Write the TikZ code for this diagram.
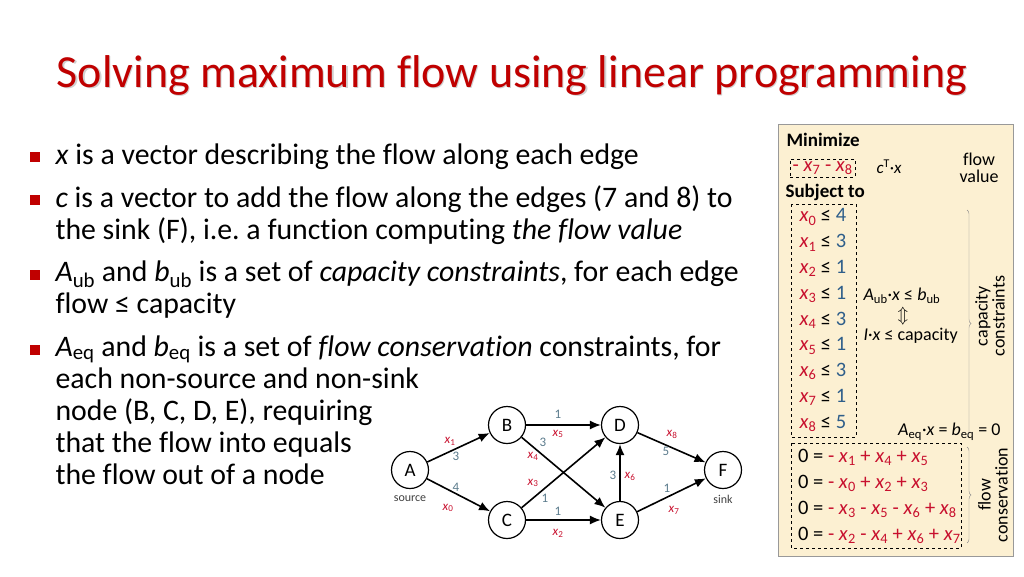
\documentclass[tikz,border=0pt]{standalone}
\usepackage{fontspec}
\setmainfont{Carlito}[Ligatures={NoCommon}]
\usetikzlibrary{arrows.meta,decorations.pathreplacing}
\definecolor{tred}{HTML}{C00000}
\definecolor{xred}{HTML}{C8102E}
\definecolor{cblue}{HTML}{2E5E8A}
\definecolor{panel}{HTML}{FCF0D2}
\definecolor{gcol}{HTML}{5B7B8C}
\newcommand{\xv}[1]{\textit{x}\textsubscript{#1}}
\begin{document}
\begin{tikzpicture}[x=1pt,y=-1pt,
  vtx/.style={circle,draw,line width=1.2pt,minimum size=37pt,inner sep=0pt,font=\fontsize{19}{19}\selectfont},
  edg/.style={-{Latex[length=11pt,width=9pt]},line width=1.6pt},
  el/.style={font=\fontsize{13}{13}\selectfont,text=xred},
  cl/.style={font=\fontsize{13}{13}\selectfont,text=gcol},
  bul/.style={anchor=west,font=\fontsize{29.8}{32}\selectfont,align=left},
  pt/.style={font=\fontsize{20.5}{24}\selectfont},
  dbox/.style={draw,dashed,thin}]
\useasboundingbox (0,0) rectangle (1024,576);
\node[font=\fontsize{46}{46}\selectfont,text=black!18] at (513.2,76.2) {Solving maximum flow using linear programming};
\node[font=\fontsize{46}{46}\selectfont,text=tred] (title) at (512,75) {Solving maximum flow using linear programming};
% bullets
\foreach \y in {157,200,275,350} \fill[tred] (30,\y-5) rectangle (40,\y+5);
\node[bul] (b1) at (52,157) {\textit{x} is a vector describing the flow along each edge};
\node[bul,anchor=north west] (b2) at (52,182) {\textit{c} is a vector to add the flow along the edges (7 and 8) to\\the sink (F), i.e.\ a function computing \textit{the flow value}};
\node[bul,anchor=north west] (b3) at (52,257) {\textit{A}\textsubscript{ub} and \textit{b}\textsubscript{ub} is a set of \textit{capacity constraints}, for each edge\\flow ≤ capacity};
\node[bul,anchor=north west] (b4) at (52,332) {\textit{A}\textsubscript{eq} and \textit{b}\textsubscript{eq} is a set of \textit{flow conservation} constraints, for\\each non-source and non-sink\\node (B, C, D, E), requiring\\that the flow into equals\\the flow out of a node};
% graph
\node[vtx] (A) at (410,470) {A};
\node[vtx] (B) at (507,425) {B};
\node[vtx] (C) at (507,520) {C};
\node[vtx] (D) at (620,425) {D};
\node[vtx] (E) at (620,520) {E};
\node[vtx] (F) at (723,470) {F};
\node[font=\fontsize{12}{12}\selectfont,text=black!75] (src) at (410,499) {source};
\node[font=\fontsize{12}{12}\selectfont,text=black!75] (snk) at (723,499) {sink};
\draw[edg] (A) -- (B);
\draw[edg] (A) -- (C);
\draw[edg] (B) -- (D);
\draw[edg] (B) -- (E);
\draw[edg] (C) -- (D);
\draw[edg] (C) -- (E);
\draw[edg] (E) -- (D);
\draw[edg] (D) -- (F);
\draw[edg] (E) -- (F);
\node[el] at (450,441) {\xv{1}}; \node[cl] at (456,456) {3};
\node[cl] at (456,487) {4}; \node[el] at (448,508) {\xv{0}};
\node[cl] at (558,414) {1}; \node[el] at (558,434) {\xv{5}};
\node[cl] at (543,442) {3}; \node[el] at (533,456) {\xv{4}};
\node[el] at (533,483) {\xv{3}}; \node[cl] at (545,498) {1};
\node[cl] at (558,511) {1}; \node[el] at (558,533) {\xv{2}};
\node[cl] at (613,475) {3}; \node[el] at (630,476) {\xv{6}};
\node[el] at (672,434) {\xv{8}}; \node[cl] at (666,451) {5};
\node[cl] at (667,488) {1}; \node[el] at (674,510) {\xv{7}};
% panel
\draw[fill=panel,draw=black!40,thick] (778,124) rectangle (1013,556);
\node[pt,anchor=west,font=\bfseries\fontsize{19}{20}\selectfont] (min) at (783,140) {Minimize};
\node[dbox,pt,anchor=west,text=xred,inner sep=2.5pt] (obj) at (790,168) {- \xv{7} - \xv{8}};
\node[pt,anchor=west,font=\fontsize{17}{20}\selectfont] (ctx) at (873,167) {\textit{c}\textsuperscript{T}·\textit{x}};
\node[pt,align=center,font=\fontsize{18}{17}\selectfont] (fv) at (979,168) {flow\\value};
\node[pt,anchor=west,font=\bfseries\fontsize{19}{20}\selectfont] (sub) at (782,192) {Subject to};
\draw[dbox] (791,204) rectangle (856,437);
\foreach \i/\c [count=\k from 0] in {0/4,1/3,2/1,3/1,4/3,5/1,6/3,7/1,8/5}
  \node[pt,anchor=west] (ub\i) at (796,217+25.8*\k) {\textcolor{xred}{\xv{\i}} ≤ \textcolor{cblue}{\c}};
\node[pt,anchor=west,font=\fontsize{18}{17}\selectfont] (aub) at (860,296) {\textit{A}\textsubscript{ub}·\textit{x} ≤ \textit{b}\textsubscript{ub}};
\node[pt,font=\fontsize{17}{17}\selectfont] (arr) at (903,316) {$\Updownarrow$};
\node[pt,anchor=west,font=\fontsize{18}{17}\selectfont] (cap) at (860,336) {\textit{I}·\textit{x} ≤ capacity};
\node[pt,anchor=east,font=\fontsize{18}{17}\selectfont] (aeq) at (1004,432) {\textit{A}\textsubscript{eq}·\textit{x} = \textit{b}\textsubscript{eq} = 0};
\draw[dbox] (791,443) rectangle (961,548);
\foreach \t [count=\k from 0] in {%
  {- \xv{1} + \xv{4} + \xv{5}},
  {- \xv{0} + \xv{2} + \xv{3}},
  {- \xv{3} - \xv{5} - \xv{6} + \xv{8}},
  {- \xv{2} - \xv{4} + \xv{6} + \xv{7}}}
  \node[pt,anchor=west,inner sep=1pt] (eq\k) at (797,457+26*\k) {0 = \textcolor{xred}{\t}};
\draw[decorate,decoration={brace,amplitude=4pt},draw=black!45] (967,210) -- (967,437);
\draw[decorate,decoration={brace,amplitude=4pt},draw=black!45] (967,447) -- (967,543);
\node[pt,rotate=90,align=center,font=\fontsize{18}{17}\selectfont] (cc) at (990,316) {capacity\\constraints};
\node[pt,rotate=90,align=center,font=\fontsize{18}{17}\selectfont] (fc) at (993,495) {flow\\conservation};
\end{tikzpicture}
\end{document}
